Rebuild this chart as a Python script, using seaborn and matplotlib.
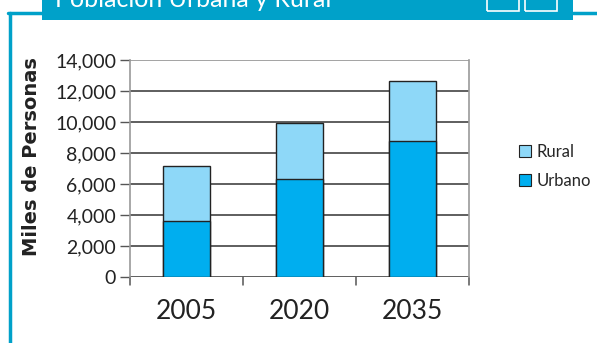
import pandas as pd
import seaborn as sns
import matplotlib.pyplot as plt
from matplotlib.patches import Patch, Rectangle
from matplotlib.lines import Line2D

# Data (miles de personas)
years = ['2005', '2020', '2035']
urbano = [3600, 6300, 8750]
rural = [3550, 3650, 3900]
yticks = [0, 2000, 4000, 6000, 8000, 10000, 12000, 14000]

df = pd.DataFrame({'year': years, 'Urbano': urbano, 'Rural': rural})
df['total'] = df['Urbano'] + df['Rural']

c_urb = '#00AEEF'
c_rur = '#8ED8F8'
c_frame = '#00A1C9'

sns.set_style('white')
plt.rcParams['font.family'] = ['Lato', 'DejaVu Sans']

fig = plt.figure(figsize=(5.97, 3.43), dpi=100)
ax = fig.add_axes([130/597, 1 - 277/343, 339/597, 217/343])

# stacked bars: total (rural on top) then urbano on top of it
sns.barplot(data=df, x='year', y='total', color=c_rur, width=0.41, saturation=1,
            edgecolor='#222222', linewidth=1, ax=ax, zorder=3)
sns.barplot(data=df, x='year', y='Urbano', color=c_urb, width=0.41, saturation=1,
            edgecolor='#222222', linewidth=1, ax=ax, zorder=4)

ax.set_ylim(0, 14000)
ax.set_xlim(-0.5, 2.5)
ax.set_yticks(yticks)
ax.set_yticklabels([f'{v:,}' for v in yticks], fontsize=14, color='#222222')
for v in yticks[:-1]:
    ax.axhline(v, color='#333333', lw=1.1, zorder=2)
ax.axhline(14000, color='#8a8a8a', lw=1.1, zorder=2)

ax.set_xlabel('')
ax.set_xticks([])
for i, yr in enumerate(years):
    ax.text(i, -0.1, yr, transform=ax.get_xaxis_transform(), ha='center',
            va='top', fontsize=19, color='#222222')
# category boundary ticks
for xb in [-0.5, 0.5, 1.5, 2.5]:
    ax.add_line(Line2D([xb, xb], [0, -0.035], transform=ax.get_xaxis_transform(),
                       color='#555555', lw=1.1, clip_on=False))

ax.tick_params(axis='y', direction='out', length=7, width=1, color='#555555', pad=3, left=True)
for s in ['left', 'right']:
    ax.spines[s].set_color('#9a9a9a')
    ax.spines[s].set_linewidth(1.2)
ax.spines['top'].set_visible(False)
ax.spines['bottom'].set_visible(False)

ax.set_ylabel('Miles de Personas', fontsize=14, fontweight='bold',
              family='DejaVu Sans', color='#222222')
ax.yaxis.set_label_coords(-0.262, 0.553)

handles = [Patch(facecolor=c_rur, edgecolor='#222222', lw=0.8, label='Rural'),
           Patch(facecolor=c_urb, edgecolor='#222222', lw=0.8, label='Urbano')]
fig.legend(handles=handles, loc='center left', bbox_to_anchor=(0.855, 0.515),
           frameon=False, fontsize=12, handlelength=0.75, handleheight=0.75,
           handletextpad=0.3, labelspacing=0.8, borderpad=0)

# header bar and frame
fig.add_artist(Rectangle((42/597, 1 - 20/343), 531/597, 20/343, transform=fig.transFigure,
                         facecolor=c_frame, edgecolor='none', zorder=5))
for x0 in [487, 525]:
    fig.add_artist(Rectangle((x0/597, 1 - 11/343), 32/597, 14/343, transform=fig.transFigure,
                             facecolor='none', edgecolor='white', lw=1.2, zorder=6))
fig.text(55/597, 1 - 7/343, 'Población Urbana y Rural', color='white', fontsize=18,
         ha='left', va='baseline', zorder=7)
fig.add_artist(Line2D([9.5/597, 9.5/597], [0, 1 - 12.5/343], transform=fig.transFigure,
                      color=c_frame, lw=2.5))
fig.add_artist(Line2D([8/597, 42/597], [1 - 12.5/343, 1 - 12.5/343], transform=fig.transFigure,
                      color=c_frame, lw=2.5))
fig.add_artist(Line2D([573/597, 1], [1 - 12.5/343, 1 - 12.5/343], transform=fig.transFigure,
                      color=c_frame, lw=2.5))

fig.savefig('out.png', dpi=100)
